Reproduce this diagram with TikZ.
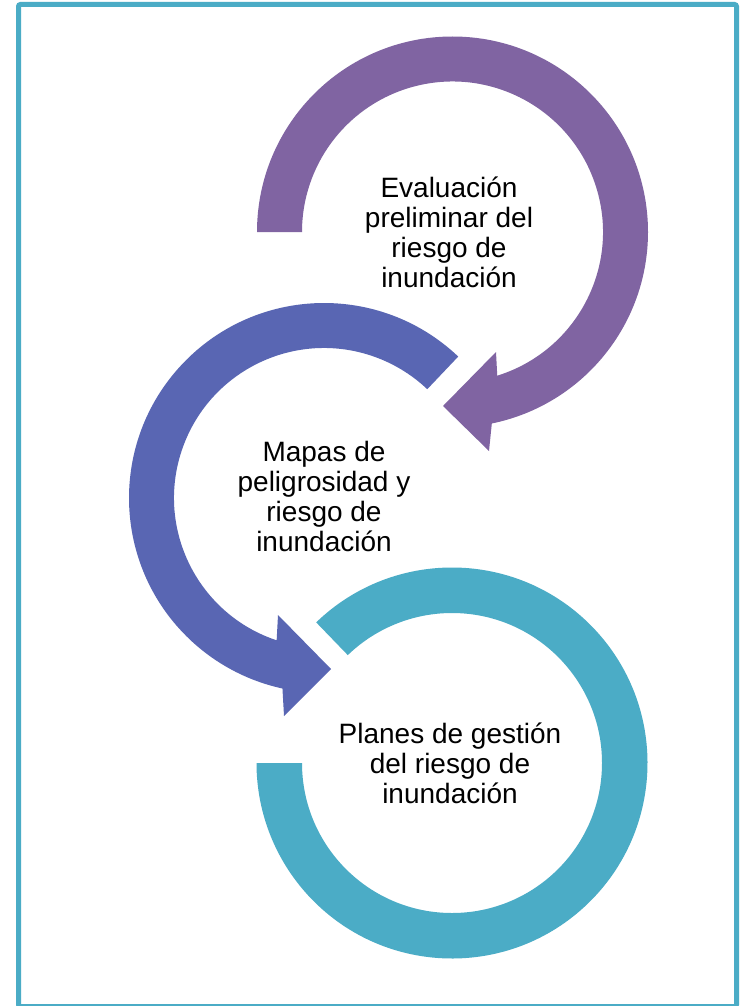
\documentclass[tikz,border=0pt]{standalone}
\usepackage{fontspec}
\setmainfont{Liberation Sans}
\definecolor{purp}{HTML}{8064A2}
\definecolor{blu}{HTML}{5966B3}
\definecolor{tea}{HTML}{4BACC6}
\tikzset{
  lbl/.style={align=center, inner sep=0pt, text=black, font=\fontsize{28}{30}\selectfont},
}
\begin{document}
\begin{tikzpicture}[x=1pt,y=-1pt]
\useasboundingbox (0,0) rectangle (743,1006);
\fill[white] (0,0) rectangle (743,1006);
% frame
\draw[tea, line width=5pt, rounded corners=2pt] (18.5,4.5) rectangle (736.5,1006.5);
% purple arrow
\begin{scope}[shift={(452.5,232)}]
\fill[purp] (180:195.5) arc[start angle=180, end angle=438.4, radius=195.5]
  -- (36.5,219) -- (-9.5,174) -- (43.5,120)
  -- (432.7:150.5) arc[start angle=432.7, end angle=180, radius=150.5] -- cycle;
\end{scope}
% blue arrow
\begin{scope}[shift={(324,498)}]
\fill[blu] (-46.5:195) arc[start angle=-46.5, end angle=-257.7, radius=195]
  -- (-40,218) -- (7,171) -- (-46,117)
  -- (-251.6:150) arc[start angle=-251.6, end angle=-46.5, radius=150] -- cycle;
\end{scope}
% teal ring
\begin{scope}[shift={(452,763)}]
\fill[tea] (-134:195.5) arc[start angle=-134, end angle=180, radius=195.5]
  -- (180:150) arc[start angle=180, end angle=-134, radius=150] -- cycle;
\end{scope}
% labels
\node[lbl] (t1) at (449,232) {Evaluación\\preliminar del\\riesgo de\\inundación};
\node[lbl] (t2) at (324,496) {Mapas de\\peligrosidad y\\riesgo de\\inundación};
\node[lbl] (t3) at (450,763) {Planes de gestión\\del riesgo de\\inundación};
\end{tikzpicture}
\end{document}
